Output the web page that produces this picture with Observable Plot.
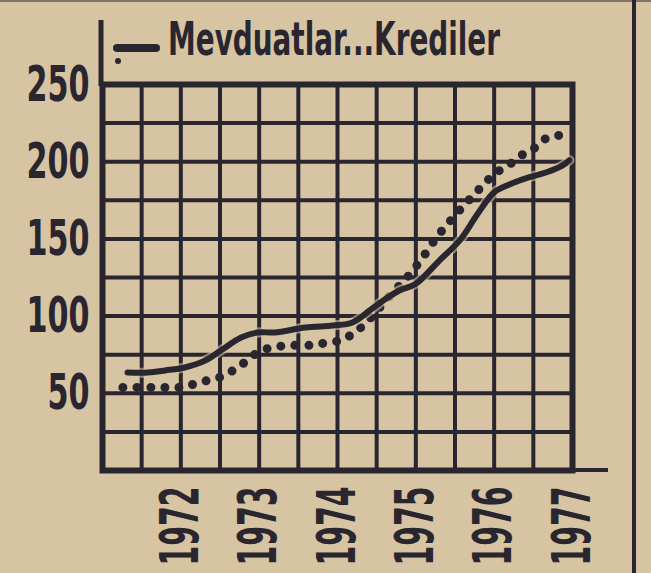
<!DOCTYPE html>
<html>
<head>
<meta charset="utf-8">
<script src="https://cdn.jsdelivr.net/npm/d3@7"></script>
<script src="https://cdn.jsdelivr.net/npm/@observablehq/plot@0.6"></script>
<style>
  html, body { margin: 0; padding: 0; background: #d6c4a2; }
  #wrap { position: relative; width: 651px; height: 573px; overflow: hidden; background: #d6c4a2; }
  #chart, #deco { position: absolute; left: 0; top: 0; }
  #deco { pointer-events: none; }
  #title {
    position: absolute; left: 168px; top: 16px;
    font-family: 'Liberation Sans Narrow','DejaVu Sans Condensed','DejaVu Sans',sans-serif;
    font-weight: bold; font-size: 46px; line-height: 46px; color: #2a2630;
    white-space: nowrap; transform-origin: 0 0;
  }
</style>
</head>
<body>
<div id="wrap">
  <div id="chart"></div>
  <svg id="deco" width="651" height="573">
    <line x1="0" y1="1" x2="651" y2="1" stroke="#2a2630" stroke-width="2" opacity="0.5"/>
    <line x1="634" y1="0" x2="634" y2="573" stroke="#2a2630" stroke-width="4"/>
    <line x1="101" y1="20" x2="101" y2="86" stroke="#2a2630" stroke-width="5"/>
    <line x1="570" y1="470" x2="608" y2="470" stroke="#2a2630" stroke-width="4"/>
    <rect x="113" y="44" width="47" height="8" rx="4" fill="#2a2630"/>
    <circle cx="118" cy="61" r="3" fill="#2a2630"/>
  </svg>
  <div id="title"><span id="titleText">Mevduatlar...Krediler</span></div>
</div>
<script>
// ---- data ----
const mevduatYil = [1971.32,1971.58,1971.80,1972.05,1972.31,1972.51,1972.77,1972.98,1973.20,1973.59,1973.94,1974.19,1974.41,1974.58,1974.79,1975.00,1975.30,1975.56,1975.76,1975.94,1976.02,1976.23,1976.45,1976.66,1976.87,1976.96];
const mevduat    = [63.5,63.5,64.8,66.7,71.2,77.7,86.1,89.4,89.4,92.6,93.9,95.9,103.6,110,116.6,121,136,149,164,177,181,186,190,193,197.5,201];

const krediYil = [1971.26,1971.45,1971.74,1971.99,1972.19,1972.38,1972.56,1972.70,1972.85,1973.02,1973.20,1973.34,1973.62,1973.81,1974.03,1974.22,1974.39,1974.54,1974.70,1974.87,1975.00,1975.13,1975.25,1975.36,1975.48,1975.62,1975.75,1975.88,1976.00,1976.11,1976.27,1976.40,1976.52,1976.66,1976.83,1976.96];
const kredi    = [53.8,53.8,53.8,53.8,56.3,58.9,61.5,66,71.2,77.7,79.7,81,81,82.3,84.2,89.4,97.2,105.6,115,124,132,141,150,157,164,172,179,186,192,195.6,200.8,206,209,215,217,214];

const yilEtiketleri = [1972,1973,1974,1975,1976,1977];
const degerEtiketleri = [50,100,150,200,250];
const xIzgara = [1971,1971.5,1972,1972.5,1973,1973.5,1974,1974.5,1975,1975.5,1976,1976.5,1977];
const yIzgara = [0,25,50,75,100,125,150,175,200,225,250];

const ink = "#2a2630";
const font = "'Liberation Sans Narrow','DejaVu Sans Condensed','DejaVu Sans',sans-serif";

const mevduatData = mevduatYil.map((t, i) => ({t, v: mevduat[i]}));
const krediData = krediYil.map((t, i) => ({t, v: kredi[i]}));

const plot = Plot.plot({
  width: 651,
  height: 573,
  marginLeft: 102,
  marginRight: 79,
  marginTop: 84,
  marginBottom: 103,
  style: {background: "transparent", color: ink},
  x: {domain: [1971, 1977]},
  y: {domain: [0, 250]},
  marks: [
    Plot.gridX(xIzgara, {stroke: ink, strokeOpacity: 1, strokeWidth: 4}),
    Plot.gridY(yIzgara, {stroke: ink, strokeOpacity: 1, strokeWidth: 4}),
    Plot.frame({stroke: ink, strokeWidth: 6}),
    Plot.line(krediData, {x: "t", y: "v", stroke: ink, strokeWidth: 9,
      strokeDasharray: "0 14", strokeLinecap: "round", curve: "catmull-rom"}),
    Plot.line(mevduatData, {x: "t", y: "v", stroke: "#d6c4a2", strokeWidth: 10, curve: "catmull-rom", strokeOpacity: 0.6}),
    Plot.line(mevduatData, {x: "t", y: "v", stroke: ink, strokeWidth: 6, curve: "catmull-rom", strokeLinecap: "round"}),
    Plot.axisY(degerEtiketleri, {tickSize: 0, tickPadding: 13, fontSize: 50, fontWeight: "bold", fontFamily: font, fill: ink, label: null}),
    Plot.axisX(yilEtiketleri, {tickSize: 0, tickPadding: 16, tickRotate: -90, fontSize: 54, fontWeight: "bold", fontFamily: font, fill: ink, label: null, tickFormat: d => String(d)})
  ]
});
document.getElementById("chart").appendChild(plot);

// condense the heavy newspaper lettering
d3.select(plot).selectAll('[aria-label="y-axis tick label"] text').each(function() {
  const n = this.textContent.length;
  this.setAttribute("textLength", n * 21);
  this.setAttribute("lengthAdjust", "spacingAndGlyphs");
});
d3.select(plot).selectAll('[aria-label="x-axis tick label"] text').each(function() {
  this.setAttribute("textLength", 79);
  this.setAttribute("lengthAdjust", "spacingAndGlyphs");
});

// fit the title to the reference width (332px)
const title = document.getElementById("title");
const w = document.getElementById("titleText").getBoundingClientRect().width;
title.style.transform = `scaleX(${332 / w})`;
</script>
</body>
</html>
